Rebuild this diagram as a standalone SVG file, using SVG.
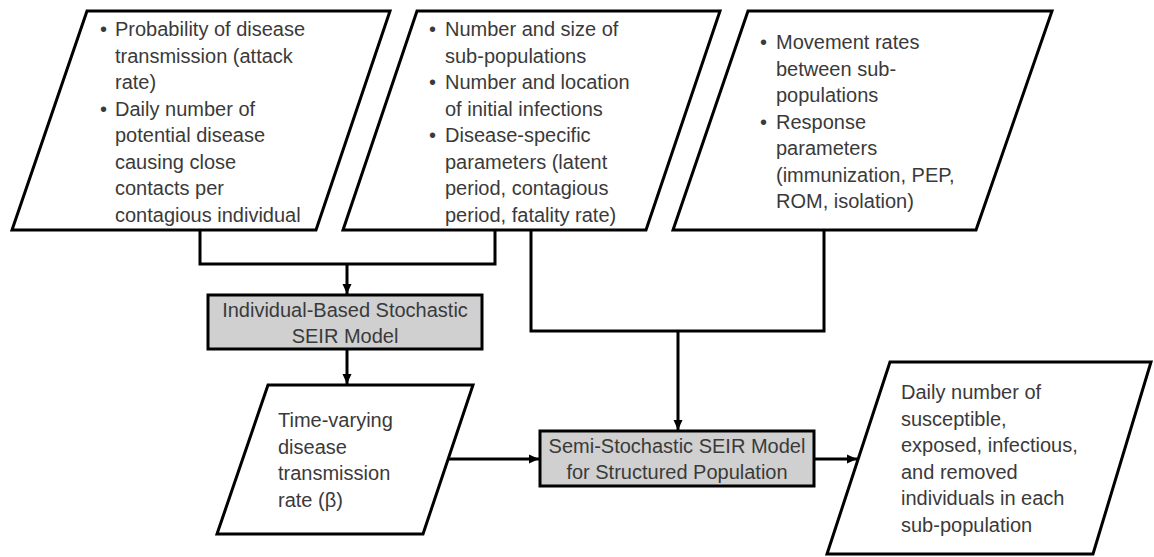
<svg xmlns="http://www.w3.org/2000/svg" width="1154" height="557" viewBox="0 0 1154 557">
<style>
  .para { fill: #ffffff; stroke: #000000; stroke-width: 3; stroke-linejoin: miter; }
  .proc { fill: #d0d0d0; stroke: #000000; stroke-width: 3; }
  .t { font-family: "Liberation Sans", Arial, sans-serif; font-size: 20px; fill: #3a3a3a; }
  .c { text-anchor: middle; }
  .conn { fill: none; stroke: #000000; stroke-width: 3; }
</style>
<defs>
  <marker id="arr" markerUnits="userSpaceOnUse" markerWidth="11" markerHeight="10" refX="10" refY="5" orient="auto">
    <path d="M0,0.5 L10,5 L0,9.5 z" fill="#000000"/>
  </marker>
</defs>
<rect width="1154" height="557" fill="#ffffff"/>

<g id="connectors">
  <path class="conn" d="M200,230 V264 H495 V230"/>
  <path class="conn" d="M347,264 V294" marker-end="url(#arr)"/>
  <path class="conn" d="M347,349 V384" marker-end="url(#arr)"/>
  <path class="conn" d="M531,230 V331 H824 V230"/>
  <path class="conn" d="M678,331 V430" marker-end="url(#arr)"/>
  <path class="conn" d="M448,459 H539" marker-end="url(#arr)"/>
  <path class="conn" d="M814,459 H857" marker-end="url(#arr)"/>
</g>

<g id="input-transmission">
  <polygon class="para" points="87,11 390,11 316,230 12,230"/>
  <text class="t" x="100" y="36">•</text>
  <text class="t" x="115" y="36">Probability of disease</text>
  <text class="t" x="115" y="62.5">transmission (attack</text>
  <text class="t" x="115" y="89">rate)</text>
  <text class="t" x="100" y="115.5">•</text>
  <text class="t" x="115" y="115.5">Daily number of</text>
  <text class="t" x="115" y="142">potential disease</text>
  <text class="t" x="115" y="168.5">causing close</text>
  <text class="t" x="115" y="195">contacts per</text>
  <text class="t" x="115" y="221.5">contagious individual</text>
</g>

<g id="input-population">
  <polygon class="para" points="417,11 720,11 646,230 343,230"/>
  <text class="t" x="429" y="36">•</text>
  <text class="t" x="445" y="36">Number and size of</text>
  <text class="t" x="445" y="62.5">sub-populations</text>
  <text class="t" x="429" y="89">•</text>
  <text class="t" x="445" y="89">Number and location</text>
  <text class="t" x="445" y="115.5">of initial infections</text>
  <text class="t" x="429" y="142">•</text>
  <text class="t" x="445" y="142">Disease-specific</text>
  <text class="t" x="445" y="168.5">parameters (latent</text>
  <text class="t" x="445" y="195">period, contagious</text>
  <text class="t" x="445" y="221.5">period, fatality rate)</text>
</g>

<g id="input-movement">
  <polygon class="para" points="748,11 1052,11 976,230 673,230"/>
  <text class="t" x="760" y="49">•</text>
  <text class="t" x="776" y="49">Movement rates</text>
  <text class="t" x="776" y="75.5">between sub-</text>
  <text class="t" x="776" y="102">populations</text>
  <text class="t" x="760" y="128.5">•</text>
  <text class="t" x="776" y="128.5">Response</text>
  <text class="t" x="776" y="155">parameters</text>
  <text class="t" x="776" y="181.5">(immunization, PEP,</text>
  <text class="t" x="776" y="208">ROM, isolation)</text>
</g>

<g id="individual-model">
  <rect class="proc" x="208" y="295" width="274" height="54"/>
  <text class="t c" x="345" y="317">Individual-Based Stochastic</text>
  <text class="t c" x="345" y="343">SEIR Model</text>
</g>

<g id="transmission-rate">
  <polygon class="para" points="268,385 473,385 423,534 217,534"/>
  <text class="t" x="278" y="427">Time-varying</text>
  <text class="t" x="278" y="453.5">disease</text>
  <text class="t" x="278" y="480">transmission</text>
  <text class="t" x="278" y="506.5">rate (β)</text>
</g>

<g id="semi-model">
  <rect class="proc" x="540" y="431" width="274" height="55"/>
  <text class="t c" x="677" y="452.5">Semi-Stochastic SEIR Model</text>
  <text class="t c" x="677" y="478.5">for Structured Population</text>
</g>

<g id="output">
  <polygon class="para" points="890,362 1151,362 1093,554 827,554"/>
  <text class="t" x="901" y="399">Daily number of</text>
  <text class="t" x="901" y="425.5">susceptible,</text>
  <text class="t" x="901" y="452">exposed, infectious,</text>
  <text class="t" x="901" y="478.5">and removed</text>
  <text class="t" x="901" y="505">individuals in each</text>
  <text class="t" x="901" y="531.5">sub-population</text>
</g>
</svg>
